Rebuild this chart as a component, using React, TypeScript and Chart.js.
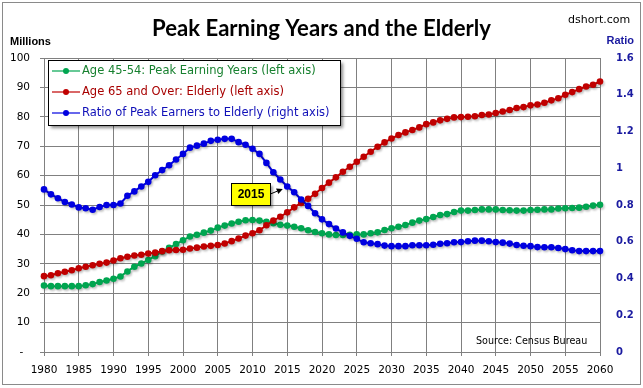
import React, { useEffect, useRef } from "react";
import { Chart, registerables } from "chart.js";

Chart.register(...registerables);

const years = [
  1980, 1981, 1982, 1983, 1984, 1985, 1986, 1987, 1988, 1989,
  1990, 1991, 1992, 1993, 1994, 1995, 1996, 1997, 1998, 1999,
  2000, 2001, 2002, 2003, 2004, 2005, 2006, 2007, 2008, 2009,
  2010, 2011, 2012, 2013, 2014, 2015, 2016, 2017, 2018, 2019,
  2020, 2021, 2022, 2023, 2024, 2025, 2026, 2027, 2028, 2029,
  2030, 2031, 2032, 2033, 2034, 2035, 2036, 2037, 2038, 2039,
  2040, 2041, 2042, 2043, 2044, 2045, 2046, 2047, 2048, 2049,
  2050, 2051, 2052, 2053, 2054, 2055, 2056, 2057, 2058, 2059,
  2060,
];

// Age 45-54 (millions)
const peakEarners = [
  22.6, 22.4, 22.4, 22.4, 22.4, 22.4, 22.7, 23.1, 23.8, 24.3,
  24.9, 25.7, 27.4, 29.0, 30.1, 31.3, 32.6, 34.2, 35.4, 36.7,
  38.0, 39.3, 39.9, 40.6, 41.3, 42.3, 43.0, 43.7, 44.3, 44.8,
  44.9, 44.7, 44.3, 43.8, 43.3, 43.0, 42.6, 42.1, 41.4, 40.8,
  40.4, 40.0, 39.8, 39.8, 39.9, 40.0, 40.0, 40.4, 40.7, 41.5,
  42.1, 42.6, 43.2, 44.0, 44.7, 45.2, 45.9, 46.6, 46.9, 47.6,
  48.1, 48.1, 48.3, 48.5, 48.5, 48.5, 48.3, 48.2, 48.1, 48.1,
  48.3, 48.4, 48.5, 48.5, 48.8, 48.9, 49.0, 49.1, 49.4, 49.8,
  50.1,
];

// Age 65 and over (millions)
const elderly = [
  25.8, 26.1, 26.8, 27.3, 27.8, 28.5, 29.0, 29.5, 30.0, 30.4,
  31.1, 31.9, 32.4, 32.8, 33.1, 33.5, 33.8, 34.3, 34.6, 34.7,
  34.8, 35.2, 35.5, 35.9, 36.1, 36.4, 36.9, 37.7, 38.6, 39.6,
  40.4, 41.4, 43.1, 44.7, 46.0, 47.5, 49.2, 50.7, 52.1, 53.8,
  55.8, 57.6, 59.4, 61.3, 63.0, 64.7, 66.4, 68.1, 69.8, 71.3,
  72.6, 73.8, 74.7, 75.5, 76.4, 77.5, 78.1, 78.8, 79.3, 79.8,
  79.9, 80.0, 80.2, 80.6, 80.8, 81.3, 81.8, 82.3, 83.0, 83.3,
  83.9, 84.2, 84.8, 85.6, 86.3, 87.5, 88.4, 89.4, 90.3, 90.9,
  92.0,
];

// Ratio of peak earners to elderly (right axis)
const ratio = [
  0.885, 0.858, 0.837, 0.816, 0.803, 0.787, 0.782, 0.774, 0.789, 0.800,
  0.800, 0.808, 0.850, 0.874, 0.901, 0.926, 0.962, 0.990, 1.016, 1.048,
  1.078, 1.112, 1.123, 1.134, 1.149, 1.155, 1.160, 1.160, 1.142, 1.128,
  1.106, 1.078, 1.029, 0.978, 0.939, 0.901, 0.869, 0.830, 0.795, 0.755,
  0.722, 0.696, 0.672, 0.651, 0.632, 0.616, 0.597, 0.592, 0.587, 0.579,
  0.576, 0.576, 0.576, 0.581, 0.581, 0.581, 0.584, 0.589, 0.592, 0.597,
  0.598, 0.603, 0.606, 0.606, 0.603, 0.598, 0.595, 0.590, 0.582, 0.578,
  0.576, 0.571, 0.570, 0.570, 0.566, 0.560, 0.554, 0.549, 0.549, 0.549,
  0.549,
];

const seriesNames = [
  "Age 45-54: Peak Earning Years (left axis)",
  "Age 65 and Over: Elderly (left axis)",
  "Ratio of Peak Earners to Elderly (right axis)",
];
const seriesColors = ["#00A550", "#C00000", "#0000E0"];
const legendTextColors = ["#17802f", "#a80000", "#1010b8"];

const TITLE = "Peak Earning Years and the Elderly";
const SITE = "dshort.com";
const LEFT_AXIS_TITLE = "Millions";
const RIGHT_AXIS_TITLE = "Ratio";
const SOURCE = "Source: Census Bureau";
const CALLOUT_YEAR = 2015;

const AXIS_BLUE = "#1a1aa0";
const GRID = "#808080";

const shadowPlugin = {
  id: "lineShadow",
  beforeDatasetDraw(chart: any) {
    const ctx = chart.ctx;
    ctx.save();
    ctx.shadowColor = "rgba(0,0,0,0.18)";
    ctx.shadowBlur = 2;
    ctx.shadowOffsetX = 1.5;
    ctx.shadowOffsetY = 2;
  },
  afterDatasetDraw(chart: any) {
    chart.ctx.restore();
  },
};

const decorPlugin = {
  id: "decor",
  afterDatasetsDraw(chart: any) {
    const ctx: CanvasRenderingContext2D = chart.ctx;
    ctx.save();

    // outer frame
    ctx.strokeStyle = "#8a8a8a";
    ctx.lineWidth = 1;
    ctx.strokeRect(2.5, 2.5, 638, 382);

    // title
    ctx.fillStyle = "#000";
    ctx.font = "bold 22px Lato";
    const tw = ctx.measureText(TITLE).width;
    const ts = (22 * 339) / tw;
    ctx.font = `bold ${ts}px Lato`;
    ctx.textAlign = "center";
    ctx.textBaseline = "alphabetic";
    ctx.fillText(TITLE, 321.5, 36);

    // site
    ctx.font = "11px 'DejaVu Sans'";
    ctx.textAlign = "left";
    ctx.fillText(SITE, 568, 23);

    // axis titles
    ctx.textBaseline = "middle";
    ctx.font = "bold 11px 'Liberation Sans'";
    ctx.fillStyle = "#000";
    ctx.textAlign = "left";
    ctx.fillText(LEFT_AXIS_TITLE, 10, 42);
    ctx.fillStyle = AXIS_BLUE;
    ctx.font = "bold 11px 'Liberation Sans'";
    ctx.textAlign = "right";
    ctx.fillText(RIGHT_AXIS_TITLE, 634, 41);

    // source
    ctx.fillStyle = "#000";
    ctx.font = "9.6px 'DejaVu Sans'";
    ctx.textAlign = "left";
    ctx.fillText(SOURCE, 476, 341);

    // legend
    const lx = 48, ly = 60, lw = 292, lh = 65;
    ctx.save();
    ctx.shadowColor = "rgba(0,0,0,0.45)";
    ctx.shadowBlur = 3;
    ctx.shadowOffsetX = 3;
    ctx.shadowOffsetY = 3;
    ctx.fillStyle = "#fff";
    ctx.fillRect(lx, ly, lw, lh);
    ctx.restore();
    ctx.strokeStyle = "#000";
    ctx.lineWidth = 1;
    ctx.strokeRect(lx + 0.5, ly + 0.5, lw, lh);
    const rows = [71, 92, 113];
    ctx.font = "11.5px 'DejaVu Sans'";
    ctx.textAlign = "left";
    ctx.textBaseline = "middle";
    seriesNames.forEach((name, i) => {
      const y = rows[i];
      ctx.strokeStyle = seriesColors[i];
      ctx.lineWidth = 1.2;
      ctx.beginPath();
      ctx.moveTo(52, y);
      ctx.lineTo(80, y);
      ctx.stroke();
      ctx.fillStyle = seriesColors[i];
      ctx.beginPath();
      ctx.arc(66, y, 3, 0, Math.PI * 2);
      ctx.fill();
      ctx.fillStyle = legendTextColors[i];
      ctx.fillText(name, 82, y + 0.5);
    });

    // callout for 2015
    const meta = chart.getDatasetMeta(2);
    const idx = years.indexOf(CALLOUT_YEAR);
    const pt = meta.data[idx];
    if (pt) {
      const px = pt.x, py = pt.y;
      const tipX = px - 4.5, tipY = py + 2.5;
      const bw = 39, bh = 22;
      const bRight = px - 17;
      const bCy = py + 7.5;
      const bx = Math.round(bRight - bw) + 0.5;
      const by = Math.round(bCy - bh / 2) + 0.5;
      ctx.save();
      ctx.shadowColor = "rgba(0,0,0,0.35)";
      ctx.shadowBlur = 2;
      ctx.shadowOffsetX = 2;
      ctx.shadowOffsetY = 2;
      ctx.fillStyle = "#FFFF00";
      ctx.fillRect(bx, by, bw, bh);
      ctx.restore();
      ctx.strokeStyle = "#000";
      ctx.lineWidth = 1;
      ctx.strokeRect(bx, by, bw, bh);
      ctx.fillStyle = "#000";
      ctx.font = "bold 12px 'Liberation Sans'";
      ctx.textAlign = "center";
      ctx.textBaseline = "middle";
      ctx.fillText(String(CALLOUT_YEAR), bx + bw / 2, by + bh / 2 + 0.5);
      // arrow
      const sx = bx + bw, sy = bCy;
      const ang = Math.atan2(tipY - sy, tipX - sx);
      const hl = 6, hw = 3;
      const baseX = tipX - hl * Math.cos(ang), baseY = tipY - hl * Math.sin(ang);
      ctx.beginPath();
      ctx.moveTo(sx, sy);
      ctx.lineTo(baseX, baseY);
      ctx.stroke();
      ctx.beginPath();
      ctx.moveTo(tipX, tipY);
      ctx.lineTo(baseX + hw * Math.sin(ang), baseY - hw * Math.cos(ang));
      ctx.lineTo(baseX - hw * Math.sin(ang), baseY + hw * Math.cos(ang));
      ctx.closePath();
      ctx.fill();
    }

    ctx.restore();
  },
};

export default function App() {
  const canvasRef = useRef<HTMLCanvasElement | null>(null);

  useEffect(() => {
    document.body.style.margin = "0";
    const canvas = canvasRef.current;
    if (!canvas) return;
    Chart.defaults.font.family = "'DejaVu Sans', sans-serif";

    const mk = (vals: number[]) => years.map((yr, i) => ({ x: yr, y: vals[i] }));
    const ds = (label: string, vals: number[], color: string, axis: string, order: number) => ({
      label,
      data: mk(vals),
      yAxisID: axis,
      borderColor: color,
      backgroundColor: color,
      borderWidth: 2,
      pointRadius: 3.3,
      pointBorderWidth: 0,
      pointBackgroundColor: color,
      pointBorderColor: color,
      tension: 0,
      fill: false,
      clip: false as any,
      order,
    });

    const chart = new Chart(canvas, {
      type: "line",
      data: {
        datasets: [
          ds(seriesNames[0], peakEarners, seriesColors[0], "y", 3),
          ds(seriesNames[1], elderly, seriesColors[1], "y", 2),
          ds(seriesNames[2], ratio, seriesColors[2], "y1", 1),
        ],
      },
      options: {
        responsive: false,
        maintainAspectRatio: false,
        devicePixelRatio: 1,
        animation: false,
        layout: { padding: { top: 58, left: 0, right: 0, bottom: 0 } },
        plugins: {
          legend: { display: false },
          tooltip: { enabled: false },
          title: { display: false },
        },
        scales: {
          x: {
            type: "linear",
            min: 1980,
            max: 2060,
            grid: { color: GRID, lineWidth: 1, tickLength: 4, drawTicks: true },
            border: { color: GRID },
            ticks: {
              stepSize: 5,
              autoSkip: false,
              maxRotation: 0,
              padding: 8,
              color: "#000",
              font: { size: 10.5 },
              callback: (v: any) => String(v),
            },
            afterFit: (s: any) => {
              s.height = 36;
            },
          },
          y: {
            position: "left",
            min: 0,
            max: 100,
            grid: { color: GRID, lineWidth: 1, tickLength: 4, drawTicks: true },
            border: { color: GRID },
            ticks: {
              stepSize: 10,
              padding: 10,
              color: "#000",
              font: { size: 10.5 },
              callback: (v: any) => (Number(v) === 0 ? "-  " : String(v)),
            },
            afterFit: (s: any) => {
              s.width = 44;
            },
          },
          y1: {
            position: "right",
            min: 0,
            max: 1.6,
            grid: { display: false, drawTicks: false, tickLength: 0 },
            border: { display: false },
            ticks: {
              stepSize: 0.2,
              padding: 16,
              color: AXIS_BLUE,
              font: { size: 10, weight: "bold" },
              callback: (v: any) => String(Math.round(Number(v) * 10) / 10),
            },
            afterFit: (s: any) => {
              s.width = 43;
            },
          },
        },
      } as any,
      plugins: [shadowPlugin, decorPlugin],
    });

    return () => chart.destroy();
  }, []);

  return (
    <div style={{ width: 643, height: 388, background: "#fff" }}>
      <canvas ref={canvasRef} width={643} height={388} style={{ display: "block" }} />
    </div>
  );
}
